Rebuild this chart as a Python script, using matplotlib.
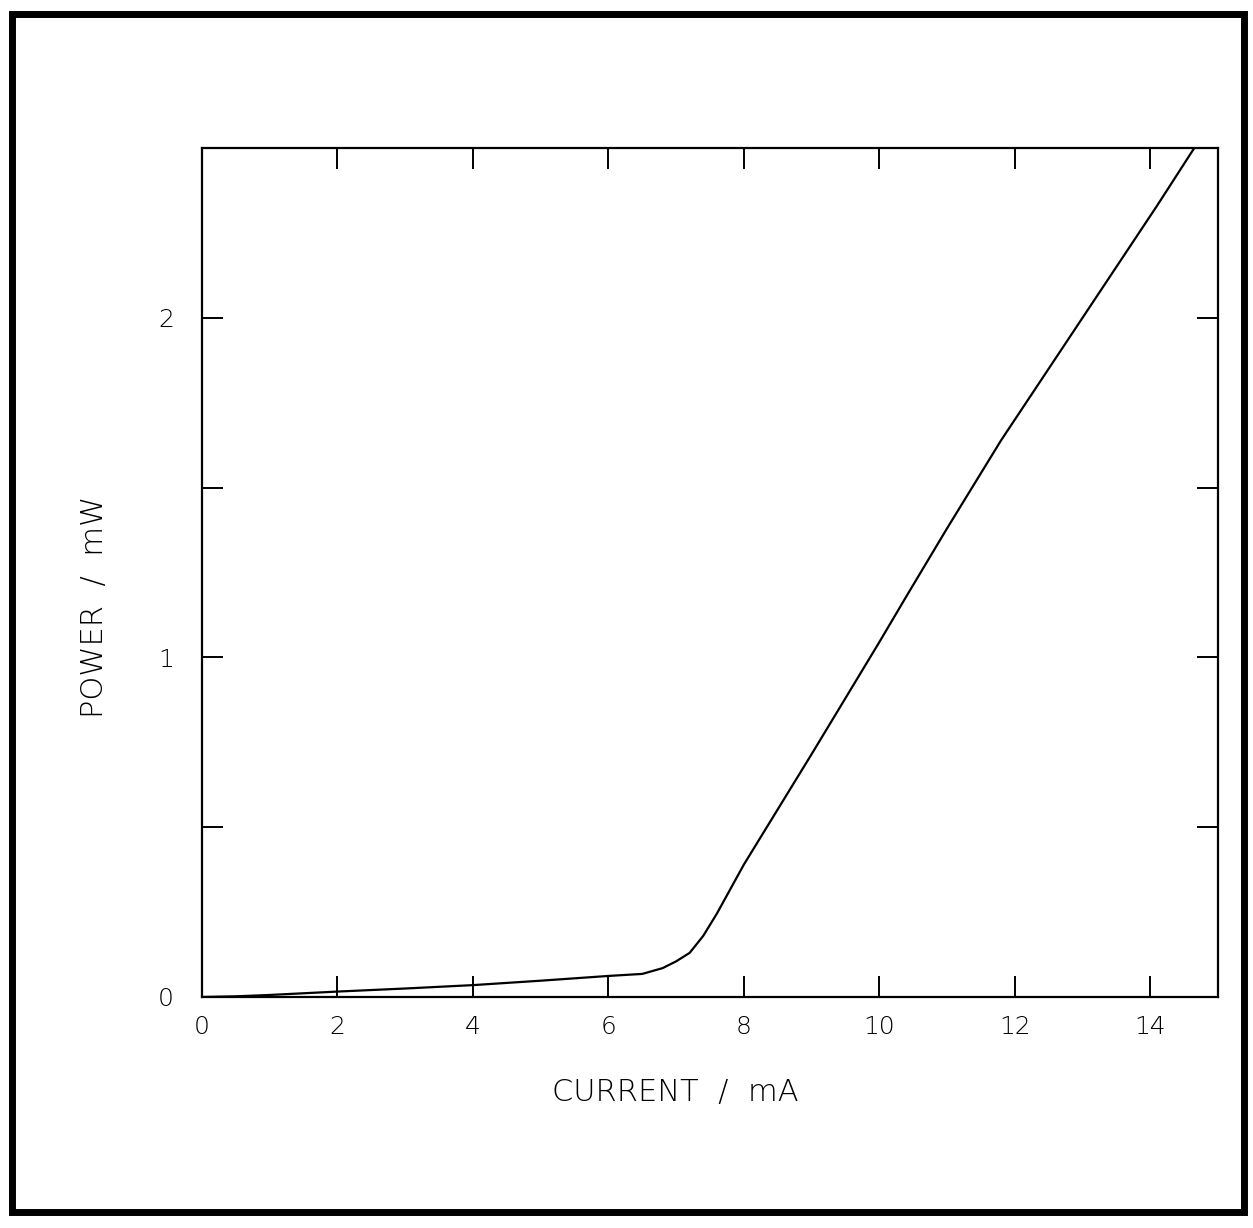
import matplotlib
matplotlib.use("Agg")
import matplotlib.pyplot as plt
from matplotlib.patches import Rectangle

# ===== DATA =====
current_ma = [0, 0.5, 1, 2, 3, 4, 5, 6, 6.5, 6.8, 7.0, 7.2, 7.4, 7.6, 8.0, 8.6, 9, 10,
              10.4, 11, 11.8, 12, 13, 13.3, 14.1, 14.65]
power_mw = [0, 0.002, 0.006, 0.016, 0.025, 0.035, 0.048, 0.062, 0.068, 0.085, 0.105,
            0.13, 0.18, 0.245, 0.39, 0.585, 0.715, 1.045, 1.18, 1.38, 1.64, 1.70,
            2.0, 2.09, 2.33, 2.5]
x_ticks = [0, 2, 4, 6, 8, 10, 12, 14]
y_ticks = [0, 1, 2]
y_minor = [0.5, 1.5]

plt.rcParams['font.family'] = ['DejaVu Sans']

W, H = 1253, 1228
fig = plt.figure(figsize=(W / 100, H / 100), dpi=100)
ax = fig.add_axes([202 / W, 231 / H, 1016 / W, 849 / H])

ax.plot(current_ma, power_mw, color='black', lw=1.6)

ax.set_xlim(0, 15)
ax.set_ylim(0, 2.5)
ax.set_xticks(x_ticks)
ax.set_xticklabels([str(v) for v in x_ticks], fontweight='light')
ax.set_yticks(y_ticks)
ax.set_yticklabels([str(v) for v in y_ticks], fontweight='light')
ax.set_yticks(y_minor, minor=True)

ax.tick_params(which='both', direction='in', length=15, width=1.4,
               top=True, right=True, labelsize=18, pad=13, colors='black')
ax.tick_params(axis='y', pad=20)
for s in ax.spines.values():
    s.set_linewidth(1.6)

ax.set_xlabel("CURRENT  /  mA", fontsize=22, fontweight='light')
ax.set_ylabel("POWER  /  mW", fontsize=22, fontweight='light')
ax.xaxis.set_label_coords(0.466, -0.095)
ax.yaxis.set_label_coords(-0.092, 0.46)

# scanned page frame
fig.patches.append(Rectangle((12 / W, 16 / H), 1232 / W, 1198 / H,
                             transform=fig.transFigure, fill=False,
                             edgecolor='black', lw=5))

fig.savefig("out.png", dpi=100)
